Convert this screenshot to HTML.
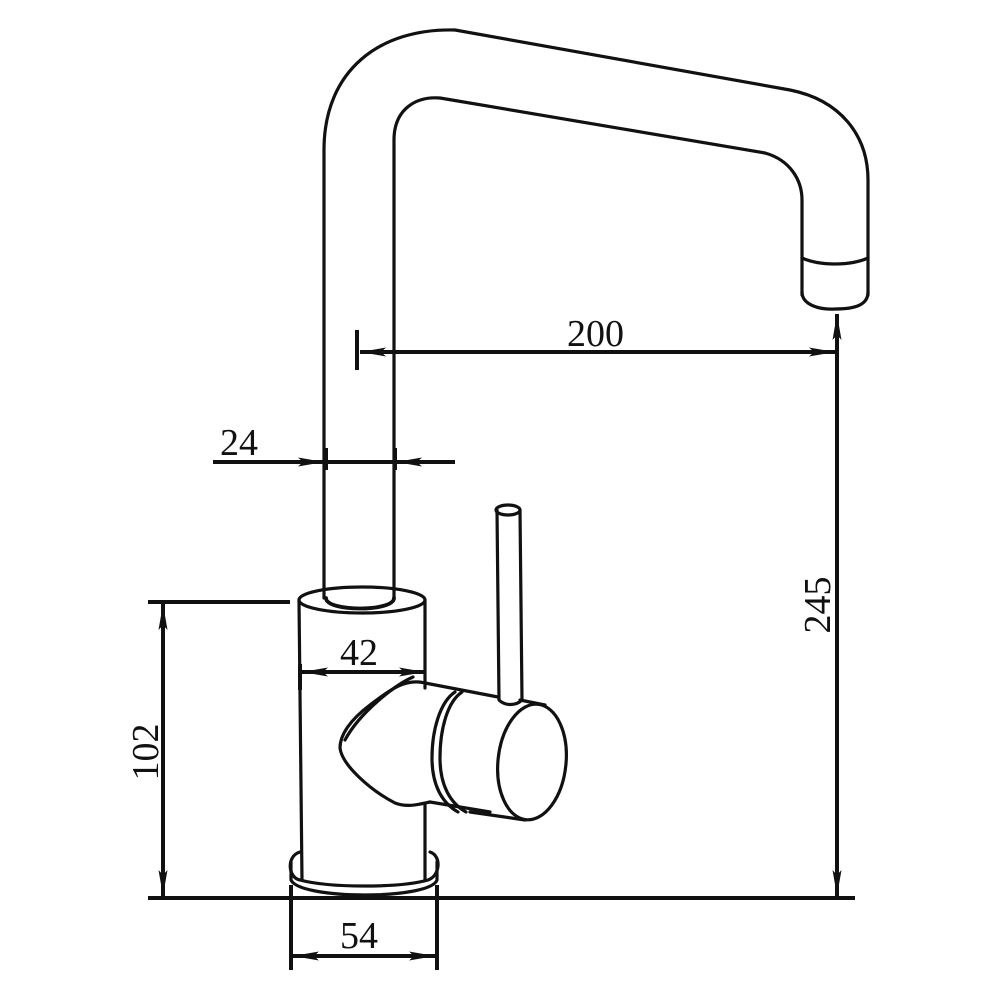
<!DOCTYPE html>
<html><head><meta charset="utf-8"><style>
html,body{margin:0;padding:0;background:#fff;}
svg{display:block}
text{font-family:"Liberation Serif",serif;font-size:38px;fill:#111}
</style></head><body>
<svg width="1000" height="1000" viewBox="0 0 1000 1000" xmlns="http://www.w3.org/2000/svg">
<defs>
<marker id="a" viewBox="0 0 26 10" refX="26" refY="5" markerWidth="26" markerHeight="10" markerUnits="userSpaceOnUse" orient="auto"><path d="M0,0.5 L26,5 L0,9.5 L5,5z" fill="#111"/></marker>
</defs>
<g fill="none" stroke="#111" stroke-width="3.2" stroke-linejoin="round" stroke-linecap="round">
<!-- spout outer -->
<path d="M324,598 L324,150 C324,70 380,28 455,30 L790,90 C840,100 868,135 868,180 L868,295"/>
<!-- spout inner -->
<path d="M394,598 L394,140 C394,110 415,96 440,98 L765,153 C790,160 802,180 802,200 L802,295"/>
<!-- nozzle -->
<path d="M802,258 C820,266 850,266 868,258"/>
<path d="M802,292 C802,305 820,310 835,309 C855,309 868,305 868,292"/>
<!-- body top collar -->
<ellipse cx="362" cy="600" rx="63" ry="13"/>
<path d="M299,600 L302,880"/>
<path d="M425,600 L425,688"/>
<path d="M425,805 L425,880"/>
<path d="M326,598 C326,612 394,612 394,598" stroke-width="3.8"/>
<!-- base ring -->
<path d="M300,852 C286,856 288,878 300,880 C330,888 400,888 428,880 C440,876 442,856 430,852"/>
<path d="M291,862 L291,880 C300,900 430,900 437,880 L437,862"/>
<!-- handle cone -->
<path d="M425,683 C405,678 390,690 370,705 C350,720 340,735 340,748 C342,765 370,790 395,803 C408,808 420,804 430,802"/>
<path d="M413,677 C395,685 360,712 345,740"/>
<path d="M425,683 L498,697"/>
<!-- collar grooves -->
<path d="M455,692 C440,702 432,730 432,758 C432,785 442,803 458,812"/>
<path d="M462,692 C447,702 440,730 440,758 C440,785 450,803 466,812"/>
<path d="M430,802 L490,812"/>
<path d="M470,812 L525,820"/>
<path d="M520,700 L545,705"/>
<ellipse cx="532" cy="762" rx="34" ry="58" transform="rotate(6 532 762)"/>
<!-- lever stick -->
<path d="M497,510 L499,700 C505,706 516,706 522,700 L520,510"/>
<ellipse cx="508" cy="510" rx="12" ry="5"/>
</g>
<g fill="none" stroke="#111" stroke-width="4">
<line x1="148" y1="898" x2="855" y2="898"/>
<line x1="837" y1="895" x2="837" y2="314" marker-end="url(#a)"/>
<line x1="837" y1="318" x2="837" y2="896" marker-end="url(#a)"/>
<line x1="357" y1="330" x2="357" y2="370"/>
<line x1="835" y1="352" x2="360" y2="352" marker-end="url(#a)"/>
<line x1="362" y1="352" x2="835" y2="352" marker-end="url(#a)"/>
<line x1="213" y1="462" x2="324" y2="462" marker-end="url(#a)"/>
<line x1="455" y1="462" x2="396" y2="462" marker-end="url(#a)"/>
<line x1="324" y1="462" x2="396" y2="462"/>
<line x1="326" y1="448" x2="326" y2="470"/>
<line x1="395" y1="448" x2="395" y2="470"/>
<line x1="302" y1="672" x2="425" y2="672" marker-end="url(#a)"/>
<line x1="425" y1="672" x2="302" y2="672" marker-end="url(#a)"/>
<line x1="300" y1="664" x2="300" y2="690"/>
<line x1="148" y1="602" x2="290" y2="602"/>
<line x1="163" y1="896" x2="163" y2="604" marker-end="url(#a)"/>
<line x1="163" y1="604" x2="163" y2="896" marker-end="url(#a)"/>
<line x1="291" y1="885" x2="291" y2="970"/>
<line x1="437" y1="885" x2="437" y2="970"/>
<line x1="293" y1="956" x2="435" y2="956" marker-end="url(#a)"/>
<line x1="435" y1="956" x2="293" y2="956" marker-end="url(#a)"/>
</g>
<text x="567" y="346">200</text>
<text x="220" y="455">24</text>
<text x="340" y="665">42</text>
<text x="340" y="948">54</text>
<text transform="translate(158,752) rotate(-90)" text-anchor="middle">102</text>
<text transform="translate(830,605) rotate(-90)" text-anchor="middle">245</text>
</svg>
</body></html>
